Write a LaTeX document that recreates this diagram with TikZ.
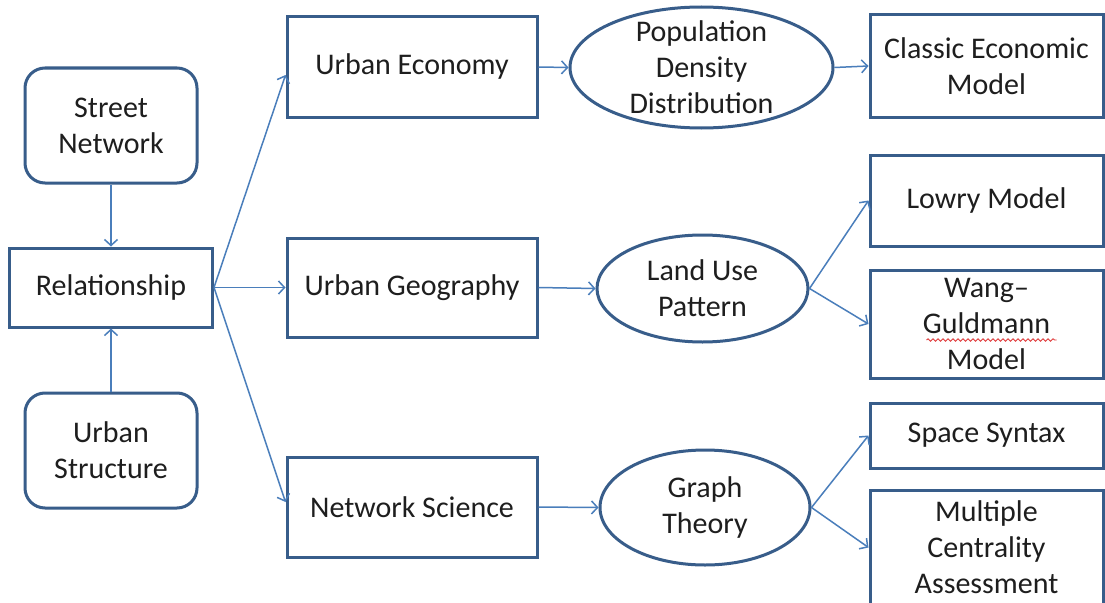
\documentclass[tikz,border=0pt]{standalone}
\usepackage{fontspec}
\setmainfont{Carlito}
\usetikzlibrary{arrows.meta,shapes.geometric,decorations.pathmorphing,calc}
\definecolor{edgeblue}{HTML}{385D8A}
\definecolor{arrowblue}{HTML}{4A7EBB}
\definecolor{txtgray}{HTML}{1E1E1E}
\definecolor{squiggle}{HTML}{E03C3C}
\begin{document}
\begin{tikzpicture}[x=1pt,y=-1pt,
  every node/.style={font=\fontsize{30}{36}\selectfont, text=txtgray, align=center, inner sep=0pt},
  sqbox/.style={draw=edgeblue, line width=3pt, rectangle, fill=white},
  rbox/.style={sqbox, rounded corners=20pt},
  oval/.style={draw=edgeblue, line width=3pt, ellipse},
  link/.style={draw=arrowblue, line width=1.5pt, -{Straight Barb[length=6pt,width=13pt]}}]
\clip (0,0) rectangle (1105,602);
\fill[white] (0,0) rectangle (1105,602);

% left column
\node[rbox, minimum width=172pt, minimum height=115pt] (street) at (111,125.5) {Street\\Network};
\node[sqbox, minimum width=203pt, minimum height=79pt] (rel) at (111,287.5) {Relationship};
\node[rbox, minimum width=172pt, minimum height=115pt] (ustruct) at (111,450.5) {Urban\\Structure};

% disciplines
\node[sqbox, minimum width=250pt, minimum height=100pt] (ue) at (412,67) {Urban Economy};
\node[sqbox, minimum width=250pt, minimum height=99pt] (ug) at (412,287.5) {Urban Geography};
\node[sqbox, minimum width=250pt, minimum height=100pt] (ns) at (412,507) {Network Science};

% themes
\node[oval, minimum width=263pt, minimum height=121pt] (pop) at (701.5,67.5) {};
\node (popt) at (pop.center) {Population\\Density\\Distribution};
\node[oval, minimum width=211pt, minimum height=107pt] (lu) at (702.5,288.5) {};
\node (lut) at (lu.center) {Land Use\\Pattern};
\node[oval, minimum width=210pt, minimum height=115pt] (gt) at (705,507.5) {};
\node (gtt) at (gt.center) {Graph\\Theory};

% models
\node[sqbox, minimum width=233pt, minimum height=102pt] (cem) at (986.5,66) {Classic Economic\\Model};
\node[sqbox, minimum width=233pt, minimum height=91pt] (lowry) at (986.5,200.5) {Lowry Model};
\node[sqbox, minimum width=233pt, minimum height=108pt] (wg) at (986.5,324) {Wang--\\Guldmann\\Model};
\node[sqbox, minimum width=233pt, minimum height=65pt] (ss) at (986.5,435.5) {Space Syntax};
\node[sqbox, minimum width=233pt, minimum height=115pt] (mca) at (986.5,547.5) {Multiple\\Centrality\\Assessment};

% spell-check underline
\draw[squiggle, line width=0.9pt, decorate, decoration={snake, amplitude=1.2pt, segment length=5pt}]
  ($(wg.center)+(-60,16)$) -- ($(wg.center)+(70,16)$);

% connectors
\draw[link] (street.south) -- (rel.north);
\draw[link] (ustruct.north) -- (rel.south);
\draw[link] (rel.east) -- ([yshift=-8pt]ue.west);
\draw[link] (rel.east) -- (ug.west);
\draw[link] (rel.east) -- ([yshift=5pt]ns.west);
\draw[link] (ue.east) -- (pop.west);
\draw[link] (ug.east) -- (lu.west);
\draw[link] (ns.east) -- (gt.west);
\draw[link] (pop.east) -- (cem.west);
\draw[link] (lu.east) -- (lowry.west);
\draw[link] (lu.east) -- (wg.west);
\draw[link] (gt.east) -- (ss.west);
\draw[link] (gt.east) -- (mca.west);
\end{tikzpicture}
\end{document}
